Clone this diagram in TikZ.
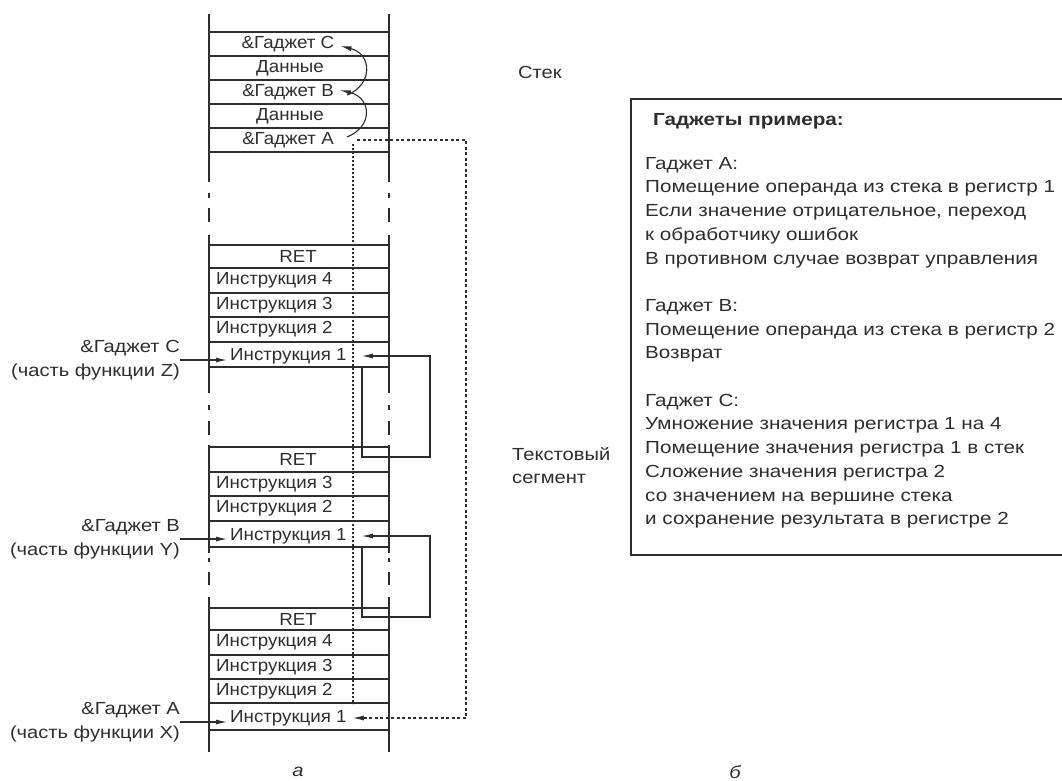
\documentclass[tikz,border=0pt]{standalone}
\usepackage{fontspec}
\setmainfont[FakeStretch=1.15]{Liberation Sans}
\newfontfamily\stackfont[FakeStretch=1.07]{Liberation Sans}
\newfontfamily\panelfont[FakeStretch=1.18]{Liberation Sans}
\usetikzlibrary{arrows.meta,positioning}
\definecolor{ink}{RGB}{45,45,45}
\tikzset{
  cell/.style={font=\stackfont\fontsize{17.5}{20}\selectfont, text=ink, inner sep=0pt},
  lbl/.style={cell, align=right, anchor=east, font=\fontsize{17.5}{24}\selectfont},
  note/.style={cell, anchor=west, font=\fontsize{17.5}{23}\selectfont},
  rule/.style={draw=ink, line width=1.1pt},
  ptr/.style={-{Latex[length=11pt,width=5pt]}, draw=ink, line width=1.1pt},
  dptr/.style={ptr, dash pattern=on 3pt off 2.5pt},
  dline/.style={draw=ink, line width=1.1pt, dash pattern=on 2pt off 2pt},
}

\begin{document}
\begin{tikzpicture}[x=1pt,y=-1pt]
  \useasboundingbox (0,0) rectangle (1062,780);
  % columns
  \draw[rule] (209,14) -- (209,182) (209,193) -- (209,198) (209,208) -- (209,222)
    (209,235) -- (209,393) (209,405) -- (209,410) (209,421) -- (209,435)
    (209,445) -- (209,553) (209,558) -- (209,562) (209,572) -- (209,585)
    (209,597) -- (209,752);
  \draw[rule] (389,14) -- (389,182) (389,193) -- (389,198) (389,208) -- (389,222)
    (389,235) -- (389,393) (389,405) -- (389,410) (389,421) -- (389,435)
    (389,445) -- (389,553) (389,558) -- (389,562) (389,572) -- (389,585)
    (389,597) -- (389,752);
  % stack rows
  \draw[rule] (209,32) -- (389,32) (209,56) -- (389,56) (209,80) -- (389,80)
    (209,104) -- (389,104) (209,128) -- (389,128) (209,152) -- (389,152);
  % function Z
  \draw[rule] (209,245) -- (389,245) (209,268) -- (389,268) (209,293) -- (389,293)
    (209,317) -- (389,317) (209,342) -- (389,342) (209,367) -- (389,367);
  % function Y
  \draw[rule] (209,447) -- (389,447) (209,472) -- (389,472) (209,496) -- (389,496)
    (209,521) -- (389,521) (209,547) -- (389,547);
  % function X
  \draw[rule] (209,608) -- (389,608) (209,630) -- (389,630) (209,655) -- (389,655)
    (209,679) -- (389,679) (209,703) -- (389,703) (209,730) -- (389,730);

  \node[cell] (gadC) at (288,44) {\&Гаджет C};
  \node[cell] (datB) at (290,68) {Данные};
  \node[cell] (gadB) at (288,92) {\&Гаджет B};
  \node[cell] (datA) at (290,116) {Данные};
  \node[cell] (gadA) at (288,140) {\&Гаджет A};

  \node[cell] (retZ) at (298,256) {RET};
  \node[cell, anchor=west] (insZ4) at (216,280) {Инструкция 4};
  \node[cell, anchor=west] (insZ3) at (216,305) {Инструкция 3};
  \node[cell, anchor=west] (insZ2) at (216,329) {Инструкция 2};
  \node[cell, anchor=west] (insZ1) at (230,356) {Инструкция 1};

  \node[cell] (retY) at (298,459) {RET};
  \node[cell, anchor=west] (insY3) at (216,484) {Инструкция 3};
  \node[cell, anchor=west] (insY2) at (216,508) {Инструкция 2};
  \node[cell, anchor=west] (insY1) at (230,536) {Инструкция 1};

  \node[cell] (retX) at (298,619) {RET};
  \node[cell, anchor=west] (insX4) at (216,642) {Инструкция 4};
  \node[cell, anchor=west] (insX3) at (216,667) {Инструкция 3};
  \node[cell, anchor=west] (insX2) at (216,691) {Инструкция 2};
  \node[cell, anchor=west] (insX1) at (230,718) {Инструкция 1};

  \node[lbl] (lblZ) at (180,360) {\&Гаджет C\\(часть функции Z)};
  \node[lbl] (lblY) at (180,539) {\&Гаджет B\\(часть функции Y)};
  \node[lbl] (lblX) at (180,722) {\&Гаджет A\\(часть функции X)};
  \draw[ptr] (lblZ.east) -- ++(47,0);
  \draw[ptr] (lblY.east) -- ++(47,0);
  \draw[ptr] (lblX.east) -- ++(47,0);

  % gadget chain
  \draw[ptr] ([xshift=13pt,yshift=3pt]gadA.east) .. controls +(26,-10) and +(32,8) .. ([xshift=6pt,yshift=2pt]gadB.east);
  \draw[ptr] ([xshift=13pt,yshift=-3pt]gadB.east) .. controls +(26,-10) and +(32,8) .. ([xshift=6pt,yshift=-2pt]gadC.east);

  \coordinate (aout) at (355,140);
  \draw[dline] (353,144) -- (353,704);
  \draw[dptr] ([xshift=2pt]aout) -- ++(109,0) |- ([xshift=6pt]insX1.east);
  \coordinate (loopZ) at (362,367);
  \draw[ptr] (loopZ) -- ++(0,90) -- ++(68,0) |- ([xshift=15pt]insZ1.east);
  \coordinate (loopY) at (362,547);
  \draw[ptr] (loopY) -- ++(0,70) -- ++(68,0) |- ([xshift=15pt]insY1.east);

  % captions
  \node[note] (stk) at (518,72) {Стек};
  \node[note, align=left] (seg) at (512,466) {Текстовый\\сегмент};
  \node[cell, font=\fontsize{17.5}{20}\selectfont\itshape] (capa) at (298,772) {а};
  \node[cell, font=\fontsize{17.5}{20}\selectfont\itshape] (capb) at (735,772) {б};

  % gadget list
  \draw[rule] (1063,99) -- (631,99) -- (631,555) -- (1063,555);
  \node[cell, anchor=west, font=\panelfont\fontsize{17.5}{20}\selectfont\bfseries] (title) at (653,121) {Гаджеты примера:};
  \node[cell, anchor=north west, align=left, font=\panelfont\fontsize{17.5}{23.7}\selectfont] (list) at (645,157) {Гаджет A:\\
    Помещение операнда из стека в регистр 1\\
    Если значение отрицательное, переход\\
    к обработчику ошибок\\
    В противном случае возврат управления\\[23.7pt]
    Гаджет B:\\
    Помещение операнда из стека в регистр 2\\
    Возврат\\[23.7pt]
    Гаджет C:\\
    Умножение значения регистра 1 на 4\\
    Помещение значения регистра 1 в стек\\
    Сложение значения регистра 2\\
    со значением на вершине стека\\
    и сохранение результата в регистре 2};
\end{tikzpicture}
\end{document}
